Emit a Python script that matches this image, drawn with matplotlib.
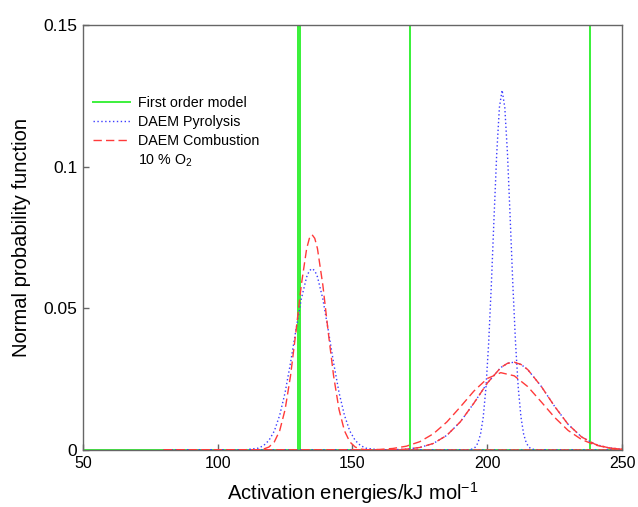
"""
DAEM activation-energy distributions vs. first order model.
"""

import matplotlib
matplotlib.use("Agg")
import matplotlib.pyplot as plt
from matplotlib.lines import Line2D

matplotlib.rcParams.update({
    "font.family":       ["Liberation Sans", "DejaVu Sans"],
    "font.size":         11.5,
    "mathtext.fontset":  "custom",
    "mathtext.rm":       "Liberation Sans",
    "mathtext.it":       "Liberation Sans:italic",
    "axes.linewidth":    1.0,
    "axes.edgecolor":    "#666666",
})

# ---------------------------------------------------------------------------
# Data
# ---------------------------------------------------------------------------
# first order model: delta functions at these activation energies
E_FIRST = [129.8, 130.5, 171.3, 238.1]

# DAEM pyrolysis, low-energy component
E_PYR_1 = [80, 110, 115, 117, 119, 121, 123, 125, 127, 129, 131, 133, 134, 135,
           136, 137, 139, 141, 143, 145, 147, 149, 151, 153, 155, 160, 250]
F_PYR_1 = [0, 0.00005, 0.00065, 0.00155, 0.0034, 0.0067, 0.0123, 0.0203, 0.0307,
           0.0423, 0.0533, 0.0611, 0.0633, 0.064, 0.0633, 0.0611, 0.0533, 0.0423,
           0.0307, 0.0203, 0.0123, 0.0067, 0.0034, 0.00155, 0.00065, 0.00005, 0]

# DAEM pyrolysis, narrow high-energy component
E_PYR_2 = [80, 190, 192.5, 194.5, 195.5, 196.5, 197.5, 198.5, 199.5, 200.5, 201.5,
           202.5, 203.5, 204.5, 205.5, 206.5, 207.5, 208.5, 209.5, 210.5, 211.5,
           212.5, 213.5, 214.5, 215.5, 216.5, 218.5, 250]
F_PYR_2 = [0, 0, 0.00003, 0.00034, 0.00096, 0.00243, 0.00558, 0.0116, 0.0219,
           0.0375, 0.0581, 0.0818, 0.1045, 0.1209, 0.127, 0.1209, 0.1045, 0.0818,
           0.0581, 0.0375, 0.0219, 0.0116, 0.00558, 0.00243, 0.00096, 0.00034,
           0.00003, 0]

# broad component shared by pyrolysis and combustion
E_BROAD = [80, 160, 165, 170, 175, 180, 185, 190, 195, 200, 205, 207.5, 210,
           212.5, 215, 220, 225, 230, 235, 240, 245, 250]
F_BROAD = [0, 0.00002, 0.00009, 0.0003, 0.0009, 0.00232, 0.00518, 0.00995,
           0.0165, 0.0236, 0.0291, 0.0306, 0.031, 0.0302, 0.0284, 0.0225, 0.01537,
           0.00905, 0.0046, 0.00202, 0.00076, 0.00025]

# DAEM combustion (10 % O2), low-energy component
E_COMB_1 = E_PYR_1
F_COMB_1 = [0, 0, 0.0001, 0.00034, 0.00105, 0.00287, 0.00684, 0.0143, 0.0261,
            0.0416, 0.0582, 0.0711, 0.0747, 0.076, 0.0747, 0.0711, 0.0582, 0.0416,
            0.0261, 0.0143, 0.00684, 0.00287, 0.00105, 0.00034, 0.0001, 0, 0]

# DAEM combustion, wider high-energy component
E_COMB_2 = [80, 150, 155, 160, 165, 170, 175, 180, 185, 190, 195, 200, 205,
            210, 215, 220, 225, 230, 235, 240, 245, 250]
F_COMB_2 = [0, 0.00002, 0.00006, 0.0002, 0.00055, 0.00135, 0.00295, 0.00573,
            0.00989, 0.0152, 0.02076, 0.02523, 0.0273, 0.02619, 0.02239, 0.01701,
            0.0115, 0.0069, 0.00369, 0.00176, 0.00074, 0.00028]

X_TICKS = [50, 100, 150, 200, 250]
Y_TICKS = [0, 0.05, 0.1, 0.15]
Y_TICKLABELS = ["0", "0.05", "0.1", "0.15"]

GREEN = "#3cf03c"
BLUE = "#3c3cff"
RED = "#ff3a3a"


def first_order_path(energies, xmin=50, xmax=250, top=1.0):
    xs, ys = [xmin], [0]
    for e in energies:
        xs += [e, e, e]
        ys += [0, top, 0]
    xs.append(xmax)
    ys.append(0)
    return xs, ys


def main():
    fig = plt.figure(figsize=(6.38, 5.07), dpi=100)
    ax = fig.add_axes([0.130, 0.1124, 0.845, 0.8383])

    gx, gy = first_order_path(E_FIRST)
    ax.plot(gx, gy, color=GREEN, lw=1.4, zorder=2)

    dot = dict(color=BLUE, lw=1.0, linestyle=(0, (1, 1.8)), zorder=3)
    ax.plot(E_PYR_1, F_PYR_1, **dot)
    ax.plot(E_PYR_2, F_PYR_2, **dot)
    ax.plot(E_BROAD, F_BROAD, **dot)

    dash = dict(color=RED, lw=1.0, linestyle=(0, (6, 3)), zorder=4)
    ax.plot(E_COMB_1, F_COMB_1, **dash)
    ax.plot(E_COMB_2, F_COMB_2, **dash)
    ax.plot(E_BROAD, F_BROAD, **dash)

    ax.set_xlim(50, 250)
    ax.set_ylim(0, 0.15)
    ax.set_xticks(X_TICKS)
    ax.set_yticks(Y_TICKS)
    ax.set_yticklabels(Y_TICKLABELS)
    ax.tick_params(direction="in", length=4, width=1.0, color="#666666",
                   labelsize=11.5, top=False, right=False, pad=4)
    ax.tick_params(axis="y", labelsize=12.5)

    ax.set_xlabel("Activation energies/kJ mol$^{-1}$", fontsize=14.5, labelpad=7)
    ax.set_ylabel("Normal probability function", fontsize=14.5, labelpad=9)

    handles = [
        Line2D([], [], color=GREEN, lw=1.4),
        Line2D([], [], color=BLUE, lw=1.0, linestyle=(0, (1, 1.8))),
        Line2D([], [], color=RED, lw=1.0, linestyle=(0, (6, 3))),
        Line2D([], [], color="none", lw=0),
    ]
    labels = ["First order model", "DAEM Pyrolysis", "DAEM Combustion",
              "10 % O$_2$"]
    ax.legend(handles, labels, loc="upper left", bbox_to_anchor=(0.018, 0.833),
              frameon=False, fontsize=10.3, borderpad=0, borderaxespad=0,
              handlelength=2.6, handletextpad=0.55, labelspacing=0.34)

    fig.savefig("out.png", dpi=100)
    plt.close(fig)


if __name__ == "__main__":
    main()
